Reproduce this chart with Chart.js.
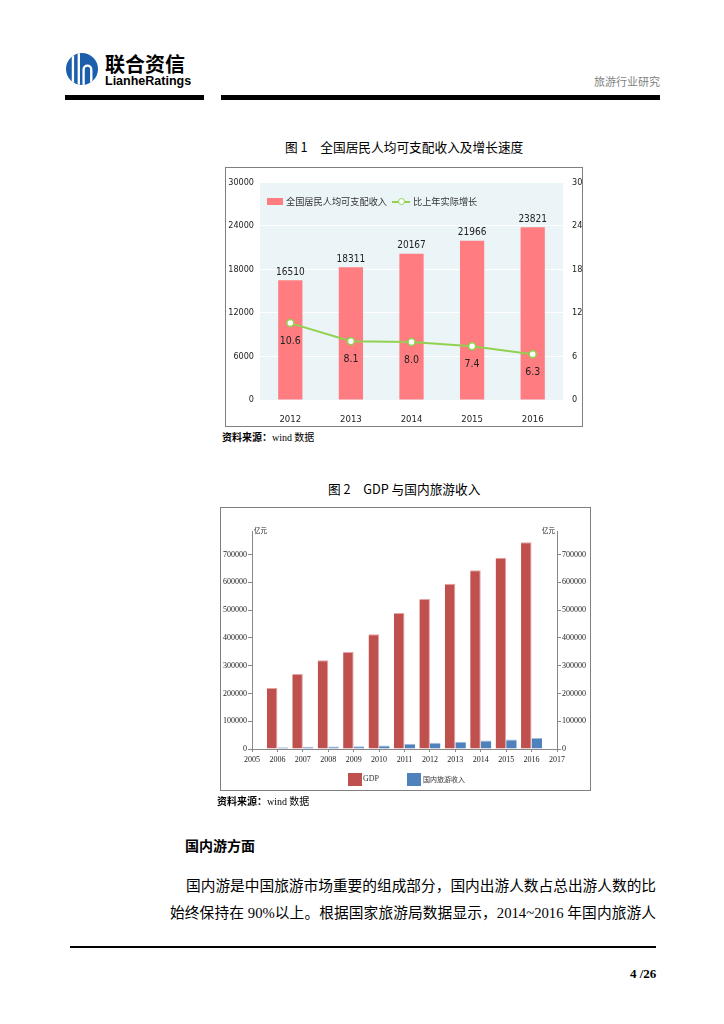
<!DOCTYPE html>
<html lang="zh">
<head>
<meta charset="UTF-8">
<title>旅游行业研究</title>
<script src="https://cdn.jsdelivr.net/npm/chart.js"></script>
<style>
    body {
        margin: 0;
        width: 724px;
        height: 1024px;
        position: relative;
        background: #fff;
        color: #000;
        font-family: "Noto Sans CJK SC", sans-serif;
        overflow: hidden;
    }
    .abs { position: absolute; white-space: nowrap; }
    .rule { position: absolute; background: #000; }
    .caption { font-size: 12.7px; line-height: 16px; }
    .source { font-size: 10px; line-height: 12px; }
    .source b { font-weight: 700; }
    .source .en { font-family: "Liberation Serif", serif; }
    .box { position: absolute; border: 1px solid #7f7f7f; box-sizing: border-box; }
    .box canvas { position: absolute; left: 0; top: 0; }
    .para {
        font-family: "Liberation Serif", "Noto Sans CJK SC", serif;
        font-size: 14.7px;
        line-height: 18px;
        text-align: justify;
        text-align-last: justify;
    }
    .leg { position: absolute; white-space: nowrap; color: #333; }
</style>
</head>
<body>

<!-- header -->
<svg class="abs" style="left:66px;top:53px" width="32" height="32" viewBox="0 0 30 30">
    <defs><clipPath id="c"><circle cx="15" cy="15" r="15"/></clipPath></defs>
    <circle cx="15" cy="15" r="15" fill="#1b5fab"/>
    <g clip-path="url(#c)" stroke="#fff" stroke-width="2.2" fill="none">
        <line x1="6.5" y1="0" x2="6.5" y2="30"/>
        <line x1="12" y1="0" x2="12" y2="30"/>
        <path d="M16.5 30 V15.5 a3.6 3.6 0 0 1 7.2 0 V30"/>
    </g>
</svg>
<div class="abs" style="left:105px;top:52px;font-size:20px;line-height:24px;font-weight:700">联合资信</div>
<div class="abs" style="left:105px;top:74px;font-family:'Liberation Sans',sans-serif;font-size:12.5px;line-height:15px;font-weight:700">LianheRatings</div>
<div class="abs" style="left:594px;top:74px;font-size:11px;line-height:14px;color:#7f7f7f">旅游行业研究</div>
<div class="rule" style="left:65px;top:95px;width:139px;height:5px"></div>
<div class="rule" style="left:221px;top:95px;width:439px;height:5px"></div>

<!-- figure 1 -->
<div class="abs caption" style="left:285px;top:139px">图 1　全国居民人均可支配收入及增长速度</div>
<div class="box" style="left:225px;top:167px;width:358px;height:260px">
    <canvas id="chart1" width="356" height="258"></canvas>
</div>
<div class="leg" style="left:267px;top:198px;width:16px;height:7px;background:#ff7c80"></div>
<div class="leg" style="left:286px;top:196px;font-size:9.2px;line-height:11px">全国居民人均可支配收入</div>
<div class="leg" style="left:392px;top:201px;width:18px;height:2px;background:#92d050"></div>
<div class="leg" style="left:398px;top:198px;width:5px;height:5px;border:1.5px solid #92d050;border-radius:50%;background:#fff"></div>
<div class="leg" style="left:413px;top:196px;font-size:9.2px;line-height:11px">比上年实际增长</div>
<div class="abs source" style="left:222px;top:431px"><b>资料来源：</b><span class="en">wind</span> 数据</div>

<!-- figure 2 -->
<div class="abs caption" style="left:328px;top:481px">图 2　GDP 与国内旅游收入</div>
<div class="box" style="left:220px;top:507px;width:371px;height:284px">
    <canvas id="chart2" width="369" height="282"></canvas>
</div>
<div class="leg" style="left:348px;top:773px;width:14px;height:13px;background:#c0504d"></div>
<div class="leg" style="left:363px;top:774px;font-family:'Liberation Serif',serif;font-size:8px;line-height:10px">GDP</div>
<div class="leg" style="left:407px;top:773px;width:14px;height:13px;background:#4f81bd"></div>
<div class="leg" style="left:423px;top:774px;font-size:7px;line-height:10px">国内旅游收入</div>
<div class="abs source" style="left:217px;top:795px"><b>资料来源：</b><span class="en">wind</span> 数据</div>

<!-- text -->
<div class="abs" style="left:185px;top:836px;font-size:14px;line-height:18px;font-weight:700">国内游方面</div>
<div class="abs para" style="left:186px;top:877px;width:470px">国内游是中国旅游市场重要的组成部分，国内出游人数占总出游人数的比</div>
<div class="abs para" style="left:170px;top:904px;width:486px">始终保持在 90%以上。根据国家旅游局数据显示，2014~2016 年国内旅游人</div>
<div class="rule" style="left:70px;top:946px;width:586px;height:1.5px"></div>
<div class="abs" style="left:630px;top:966px;font-family:'Liberation Serif',serif;font-size:13px;line-height:16px;font-weight:700">4 /26</div>

<script>
    const narrow = '"Liberation Sans Narrow", "DejaVu Sans Condensed", "Liberation Sans", sans-serif';

    // figure 1 data
    const years1 = ['2012', '2013', '2014', '2015', '2016'];
    const income = [16510, 18311, 20167, 21966, 23821];
    const growth = [10.6, 8.1, 8.0, 7.4, 6.3];

    // figure 2 data (亿元)
    const years2 = ['2005', '2006', '2007', '2008', '2009', '2010', '2011',
                    '2012', '2013', '2014', '2015', '2016', '2017'];
    const gdp = [null, 219439, 270232, 319516, 349081, 413030, 489301,
                 540367, 595244, 643974, 689052, 744127, null];
    const tourism = [null, 6230, 7771, 8749, 10184, 12580, 19305,
                     22706, 26276, 30312, 34195, 39390, null];
    const ticks2 = [0, 100000, 200000, 300000, 400000, 500000, 600000, 700000];

    const plot1 = {
        id: 'plot1',
        beforeDraw(chart) {
            const { ctx, chartArea: a } = chart;
            ctx.save();
            ctx.fillStyle = '#ebf5f8';
            ctx.fillRect(a.left, a.top, a.right - a.left, a.bottom - a.top);
            ctx.restore();
        },
        afterDatasetsDraw(chart) {
            const ctx = chart.ctx;
            ctx.save();
            ctx.fillStyle = '#222';
            ctx.textAlign = 'center';
            ctx.font = '10px ' + narrow;
            ctx.textBaseline = 'bottom';
            chart.getDatasetMeta(1).data.forEach((b, i) => {
                ctx.fillText(String(income[i]), b.x, b.y - 3);
            });
            ctx.font = '10.5px ' + narrow;
            ctx.textBaseline = 'middle';
            chart.getDatasetMeta(0).data.forEach((p, i) => {
                ctx.fillText(growth[i].toFixed(1), p.x, p.y + 18);
            });
            ctx.restore();
        }
    };

    new Chart(document.getElementById('chart1'), {
        data: {
            labels: years1,
            datasets: [{
                type: 'line',
                label: '比上年实际增长',
                data: growth,
                yAxisID: 'y1',
                borderColor: '#92d050',
                borderWidth: 2,
                pointRadius: 3.5,
                pointBackgroundColor: '#fff',
                pointBorderColor: '#92d050',
                pointBorderWidth: 1.5,
                order: 0
            }, {
                type: 'bar',
                label: '全国居民人均可支配收入',
                data: income,
                yAxisID: 'y',
                backgroundColor: '#ff7c80',
                barPercentage: 0.4,
                categoryPercentage: 1,
                order: 1
            }]
        },
        options: {
            responsive: false,
            animation: false,
            layout: { padding: { top: 12 } },
            plugins: { legend: { display: false }, tooltip: { enabled: false } },
            scales: {
                x: {
                    grid: { display: false },
                    border: { display: false },
                    ticks: { color: '#222', padding: 6, font: { family: narrow, size: 9.5 } },
                    afterFit(s) { s.height = 26; }
                },
                y: {
                    position: 'left',
                    min: 0,
                    max: 30000,
                    ticks: {
                        stepSize: 6000, color: '#222', padding: 6,
                        font: { family: narrow, size: 9 },
                        callback: v => String(v)
                    },
                    grid: { color: '#fff', lineWidth: 1, drawTicks: false },
                    border: { display: false },
                    afterFit(s) { s.width = 34; }
                },
                y1: {
                    position: 'right',
                    min: 0,
                    max: 30,
                    ticks: {
                        stepSize: 6, color: '#222', padding: 9,
                        font: { family: narrow, size: 9 },
                        callback: v => String(v)
                    },
                    grid: { display: false, drawTicks: false },
                    border: { display: false },
                    afterFit(s) { s.width = 19; }
                }
            }
        },
        plugins: [plot1]
    });

    const units2 = {
        id: 'units2',
        afterDraw(chart) {
            const { ctx, chartArea: a } = chart;
            ctx.save();
            ctx.fillStyle = '#222';
            ctx.font = '6.5px "Noto Sans CJK SC", sans-serif';
            ctx.textBaseline = 'top';
            ctx.textAlign = 'left';
            ctx.fillText('亿元', a.left + 2, a.top - 4);
            ctx.textAlign = 'right';
            ctx.fillText('亿元', a.right - 2, a.top - 4);
            ctx.restore();
        }
    };

    const serifTicks = { family: '"Liberation Serif", serif', size: 8 };
    const fixTicks2 = s => { s.ticks = ticks2.map(v => ({ value: v })); };

    new Chart(document.getElementById('chart2'), {
        type: 'bar',
        data: {
            labels: years2,
            datasets: [{
                label: 'GDP',
                data: gdp,
                yAxisID: 'y',
                backgroundColor: '#c0504d',
                borderColor: '#e3a3a2',
                borderWidth: { top: 1, right: 1, left: 0, bottom: 0 },
                barPercentage: 1,
                categoryPercentage: 0.83
            }, {
                label: '国内旅游收入',
                data: tourism,
                yAxisID: 'y1',
                backgroundColor: '#4f81bd',
                borderColor: '#9fbde0',
                borderWidth: { top: 1, right: 0, left: 0, bottom: 0 },
                barPercentage: 1,
                categoryPercentage: 0.83
            }]
        },
        options: {
            responsive: false,
            animation: false,
            layout: { padding: { top: 23 } },
            plugins: { legend: { display: false }, tooltip: { enabled: false } },
            scales: {
                x: {
                    offset: false,
                    grid: { offset: false, drawOnChartArea: false, tickLength: 3, color: '#888' },
                    border: { color: '#888' },
                    ticks: { color: '#222', padding: 3, autoSkip: false, maxRotation: 0, font: serifTicks },
                    afterFit(s) { s.height = 41; }
                },
                y: {
                    position: 'left',
                    min: 0,
                    max: 785000,
                    afterBuildTicks: fixTicks2,
                    ticks: { color: '#222', padding: 1, font: serifTicks, callback: v => String(v) },
                    grid: { drawOnChartArea: false, tickLength: 4, color: '#888' },
                    border: { color: '#888' },
                    afterFit(s) { s.width = 31; }
                },
                y1: {
                    position: 'right',
                    min: 0,
                    max: 785000,
                    afterBuildTicks: fixTicks2,
                    ticks: { color: '#222', padding: 1, font: serifTicks, callback: v => String(v) },
                    grid: { drawOnChartArea: false, tickLength: 4, color: '#888' },
                    border: { color: '#888' },
                    afterFit(s) { s.width = 33; }
                }
            }
        },
        plugins: [units2]
    });
</script>
</body>
</html>
